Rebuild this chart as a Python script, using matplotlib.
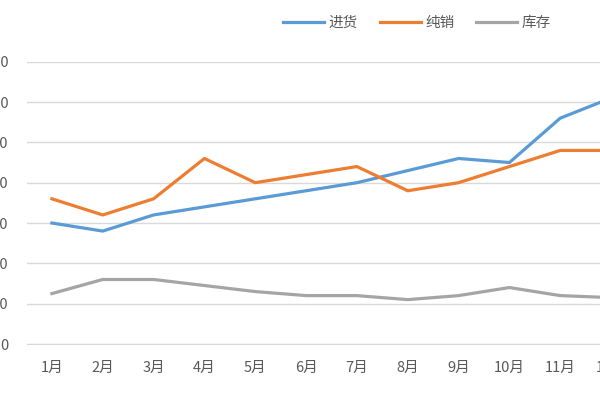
import matplotlib

matplotlib.use("Agg")
import matplotlib.pyplot as plt

plt.rcParams["font.family"] = ["Noto Sans CJK SC", "DejaVu Sans"]

months = ["1月", "2月", "3月", "4月", "5月", "6月", "7月", "8月", "9月", "10月", "11月", "12月"]
purchase = [300, 280, 320, 340, 360, 380, 400, 430, 460, 450, 560, 610]
net_sales = [360, 320, 360, 460, 400, 420, 440, 380, 400, 440, 480, 480]
stock = [125, 160, 160, 145, 130, 120, 120, 110, 120, 140, 120, 115]
y_ticks = [0, 100, 200, 300, 400, 500, 600, 700]

fig = plt.figure(figsize=(6, 4), dpi=100)
# plot area runs off the left and right edges, as in the cropped reference
ax = fig.add_axes([26.5 / 600, 56 / 400, 610 / 600, 282.3 / 400])

x = list(range(1, len(months) + 1))
ax.plot(x, purchase, color="#5B9BD5", linewidth=2.3, label="进货")
ax.plot(x, net_sales, color="#ED7D31", linewidth=2.3, label="纯销")
ax.plot(x, stock, color="#A5A5A5", linewidth=2.3, label="库存")

ax.set_xlim(0.5, 12.5)
ax.set_ylim(0, 700)
ax.set_xticks(x)
ax.set_xticklabels(months)
ax.set_yticks(y_ticks)
ax.set_yticklabels([str(v) for v in y_ticks])
ax.tick_params(axis="both", length=0, colors="#595959", labelsize=10.5)
ax.tick_params(axis="y", pad=13)
ax.tick_params(axis="x", pad=12)
ax.grid(axis="y", color="#D9D9D9", linewidth=1)
ax.set_axisbelow(True)
for side in ["left", "right", "top"]:
    ax.spines[side].set_visible(False)
ax.spines["bottom"].set_color("#D9D9D9")

fig.legend(
    loc="center",
    bbox_to_anchor=(0.695, 0.942),
    ncol=3,
    frameon=False,
    fontsize=10.5,
    handlelength=2.8,
    handletextpad=0.3,
    columnspacing=1.5,
    labelcolor="#595959",
)

fig.savefig("out.png", dpi=100)
plt.close(fig)
